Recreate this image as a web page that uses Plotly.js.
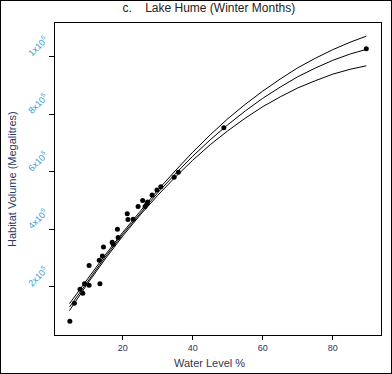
<!DOCTYPE html>
<html>
<head>
<meta charset="utf-8">
<script src="https://cdn.plot.ly/plotly-3.0.1.min.js"></script>
<style>
  html, body { margin: 0; padding: 0; background: #fff; }
  #frame { width: 390px; height: 372px; border: 1px solid #000; }
  #chart { width: 390px; height: 372px; }
</style>
</head>
<body>
<div id="frame"><div id="chart"></div></div>
<script>
// Observed data points (Water Level %, Habitat Volume in megalitres)
const obsLevel = [4.9, 6.2, 7.8, 8.6, 9.1, 10.4, 10.4, 13.5, 13.3, 14.2, 14.5, 17.0, 17.3, 18.5, 18.7,
                  21.3, 21.5, 23.0, 24.4, 25.7, 26.4, 26.9, 27.1, 28.4, 29.8, 30.9, 34.7, 35.9, 48.9, 89.6];
const obsVolume = [81000, 143000, 192000, 178000, 211000, 206000, 274000, 211000, 293000, 307000, 339000,
                   355000, 348000, 400000, 372000, 454000, 434000, 435000, 479000, 500000, 479000, 488000,
                   495000, 519000, 537000, 548000, 581000, 598000, 753000, 1027000];

// Fitted curve and confidence bands
const fitLevel = [4.8, 10, 15, 20, 25, 30, 35, 40, 45, 50, 55, 60, 65, 70, 75, 80, 85, 89.6];
const fitMid   = [130000, 221000, 304000, 383000, 457000, 527000, 592000, 654000, 711000, 763000,
                  811000, 855000, 894000, 930000, 960000, 987000, 1009000, 1025000];
const fitUpper = [142000, 230000, 311000, 389500, 464000, 536000, 603000, 668000, 728000, 784000,
                  834000, 880000, 922000, 961000, 994000, 1024000, 1050000, 1071000];
const fitLower = [118000, 212000, 297000, 376500, 450000, 518000, 581000, 640000, 694000, 742000,
                  786000, 826000, 860000, 891000, 916000, 939000, 956000, 968000];

const yTickVals = [200000, 400000, 600000, 800000, 1000000];
const yTickText = ['2x10<sup>5</sup>', '4x10<sup>5</sup>', '6x10<sup>5</sup>', '8x10<sup>5</sup>', '1x10<sup>6</sup>'];
const xTickVals = [20, 40, 60, 80];

const lineStyle = {color: '#000', width: 1};
const traces = [
  {x: fitLevel, y: fitUpper, mode: 'lines', line: lineStyle, hoverinfo: 'skip'},
  {x: fitLevel, y: fitMid, mode: 'lines', line: lineStyle, hoverinfo: 'skip'},
  {x: fitLevel, y: fitLower, mode: 'lines', line: lineStyle, hoverinfo: 'skip'},
  {x: obsLevel, y: obsVolume, mode: 'markers', marker: {symbol: 'circle', size: 5, color: '#000'}}
];

const font = 'Liberation Sans, Arial, sans-serif';
const layout = {
  width: 390, height: 372,
  margin: {l: 54, r: 10, t: 22, b: 38},
  paper_bgcolor: '#fff', plot_bgcolor: '#fff',
  showlegend: false,
  font: {family: font, size: 11, color: '#222'},
  title: {text: 'c.\u00A0\u00A0\u00A0\u00A0Lake Hume (Winter Months)', x: 0.472, xref: 'paper',
          y: 1 - 7/372, yref: 'container', yanchor: 'middle', xanchor: 'center',
          font: {family: font, size: 12, color: '#222'}},
  xaxis: {
    range: [0.66, 93.8], tickvals: xTickVals, ticks: 'outside', ticklen: 4, tickcolor: '#000',
    showgrid: false, zeroline: false, showline: true, linecolor: '#000', linewidth: 1, mirror: true,
    tickfont: {family: font, size: 9, color: '#333355'}
  },
  yaxis: {
    range: [33000, 1116700], tickvals: yTickVals, ticktext: yTickText, tickangle: -45,
    ticks: 'outside', ticklen: 5, tickcolor: '#000',
    ticklabelshift: -18, ticklabelstandoff: 2,
    showgrid: false, zeroline: false, showline: true, linecolor: '#000', linewidth: 1, mirror: true,
    tickfont: {family: font, size: 9, color: '#3a9ad9'}
  },
  annotations: [
    {text: 'Water Level %', xref: 'paper', yref: 'paper', x: 0.475, y: 0, yshift: -28,
     xanchor: 'center', yanchor: 'middle', showarrow: false,
     font: {family: font, size: 11, color: '#333355'}},
    {text: 'Habitat Volume (Megalitres)', xref: 'paper', yref: 'paper', x: 0, xshift: -43, y: 0.5,
     textangle: -90, xanchor: 'center', yanchor: 'middle', showarrow: false,
     font: {family: font, size: 11, color: '#2b3a67'}}
  ]
};

Plotly.newPlot('chart', traces, layout, {displayModeBar: false, staticPlot: true});
</script>
</body>
</html>
